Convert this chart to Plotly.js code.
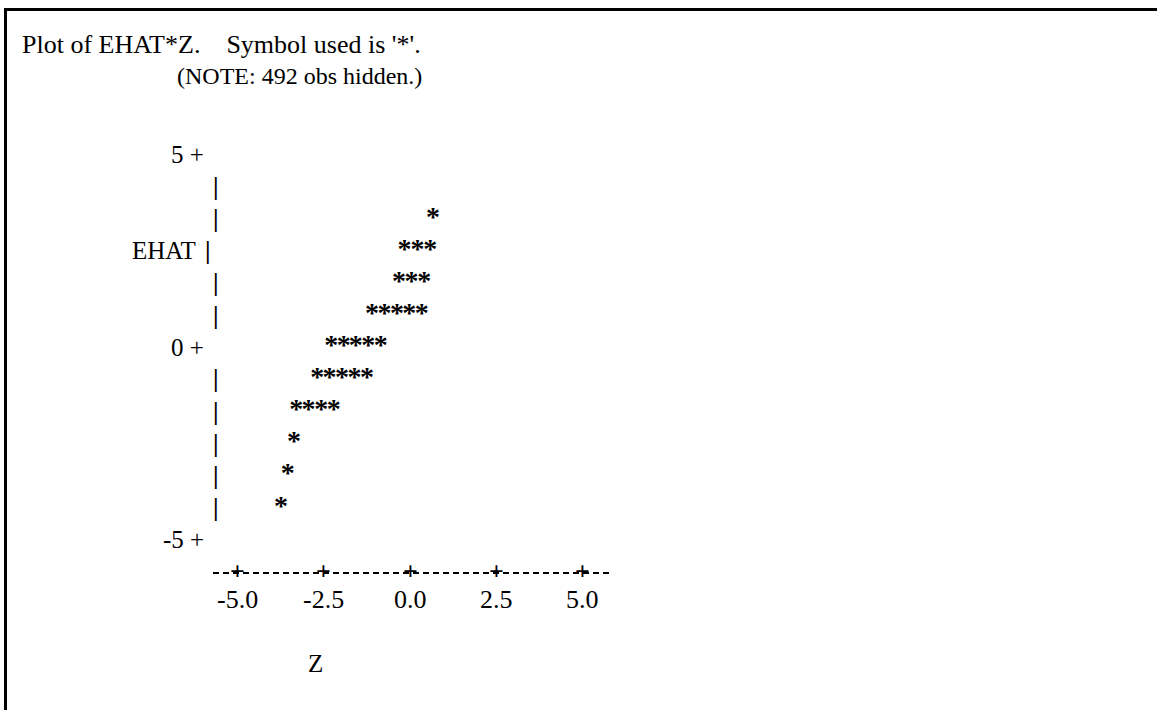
<!DOCTYPE html>
<html>
<head>
<meta charset="utf-8">
<script src="https://cdn.plot.ly/plotly-3.0.1.min.js"></script>
<style>html,body{margin:0;padding:0;background:#fff;}#chart{width:1157px;height:710px;}</style>
</head>
<body>
<div id="chart"></div>
<script>
// ---- data ----
// Z values of each plotted '*' and the EHAT row it sits on
const zValues = [0.67,
  -0.16, 0.22, 0.59,
  -0.32, 0.04, 0.41,
  -1.10, -0.74, -0.38, -0.02, 0.34,
  -2.28, -1.92, -1.57, -1.21, -0.85,
  -2.69, -2.33, -1.97, -1.61, -1.25,
  -3.30, -2.94, -2.57, -2.21,
  -3.36,
  -3.54,
  -3.74];
const ehatValues = [3.33,
  2.5, 2.5, 2.5,
  1.67, 1.67, 1.67,
  0.83, 0.83, 0.83, 0.83, 0.83,
  0, 0, 0, 0, 0,
  -0.83, -0.83, -0.83, -0.83, -0.83,
  -1.67, -1.67, -1.67, -1.67,
  -2.5,
  -3.33,
  -4.17];
const xTickVals = [-5, -2.5, 0, 2.5, 5];
const xTickText = ['-5.0', '-2.5', '0.0', '2.5', '5.0'];
const yTickVals = [5, 0, -5];
const yTickText = ['5 +', '0 +', '-5 +'];
const yPipeRows = [4.17, 3.33, 1.67, 0.83, -0.83, -1.67, -2.5, -3.33, -4.17];
const titleText = "Plot of EHAT*Z.\u00a0\u00a0\u00a0 Symbol used is '*'.";
const noteText = "(NOTE: 492 obs hidden.)";
const yLabel = 'EHAT';
const xLabel = 'Z';

// ---- layout geometry ----
const W = 1157, H = 710;
const x0px = 410, xScale = 34.5;   // px of z=0, px per unit
const y0px = 347, yScale = 38.5;   // px of EHAT=0, px per unit
const xr = [-x0px / xScale, (W - x0px) / xScale];
const yr = [(y0px - H) / yScale, y0px / yScale];
const zx = px => (px - x0px) / xScale;
const ey = px => (y0px - px) / yScale;

const FONT = 'Liberation Serif, Times New Roman, serif';
const f = (size, extra) => Object.assign({family: FONT, size: size, color: '#000'}, extra || {});

const annotations = [];
// y tick labels "5 +", "0 +", "-5 +"
yTickVals.forEach((v, i) => annotations.push({
  x: zx(206), y: v, xref: 'x', yref: 'y', text: yTickText[i], showarrow: false,
  xanchor: 'right', yanchor: 'middle', font: f(25)
}));
// y axis pipes
yPipeRows.forEach(v => annotations.push({
  x: zx(216), y: v, xref: 'x', yref: 'y', text: '<b>|</b>', showarrow: false,
  xanchor: 'center', yanchor: 'middle', font: f(25)
}));
// EHAT label with its pipe
annotations.push({x: zx(198), y: 2.5, xref: 'x', yref: 'y', text: yLabel, showarrow: false,
  xanchor: 'right', yanchor: 'middle', font: f(25)});
annotations.push({x: zx(208), y: 2.5, xref: 'x', yref: 'y', text: '<b>|</b>', showarrow: false,
  xanchor: 'center', yanchor: 'middle', font: f(25)});
// x axis "+" tick marks and labels
xTickVals.forEach((v, i) => {
  annotations.push({x: v, y: ey(571), xref: 'x', yref: 'y', text: '<b>+</b>', showarrow: false,
    xanchor: 'center', yanchor: 'middle', font: f(26)});
  annotations.push({x: v, y: ey(599), xref: 'x', yref: 'y', text: xTickText[i], showarrow: false,
    xanchor: 'center', yanchor: 'middle', font: f(26)});
});
// x label
annotations.push({x: zx(315), y: ey(663), xref: 'x', yref: 'y', text: xLabel, showarrow: false,
  xanchor: 'center', yanchor: 'middle', font: f(25)});
// note line
annotations.push({x: 175 / W, y: 1 - 76 / H, xref: 'paper', yref: 'paper', text: noteText, showarrow: false,
  xanchor: 'left', yanchor: 'middle', font: f(24)});

const shapes = [
  // dashed x axis line
  {type: 'line', xref: 'x', yref: 'y', x0: zx(213), x1: zx(611), y0: ey(573), y1: ey(573),
   line: {color: '#000', width: 2.2, dash: '6px,4px'}},
  // frame: top and left borders
  {type: 'line', xref: 'paper', yref: 'paper', x0: 4 / W, x1: 1, y0: 1 - 9.5 / H, y1: 1 - 9.5 / H,
   line: {color: '#000', width: 3}},
  {type: 'line', xref: 'paper', yref: 'paper', x0: 5.5 / W, x1: 5.5 / W, y0: 1 - 9 / H, y1: 0,
   line: {color: '#000', width: 3}}
];

const trace = {
  x: zValues, y: ehatValues, type: 'scatter', mode: 'text', text: zValues.map(() => '<b>*</b>'),
  textposition: 'middle center', textfont: f(28), hoverinfo: 'skip', showlegend: false
};

const layout = {
  width: W, height: H, margin: {l: 0, r: 0, t: 0, b: 0, pad: 0},
  paper_bgcolor: '#fff', plot_bgcolor: '#fff', showlegend: false,
  title: {text: titleText, x: 22 / W, xanchor: 'left', y: 1 - 44 / H, yanchor: 'middle',
          xref: 'container', yref: 'container', font: f(26)},
  xaxis: {range: xr, visible: false, fixedrange: true},
  yaxis: {range: yr, visible: false, fixedrange: true},
  annotations: annotations, shapes: shapes
};

Plotly.newPlot('chart', [trace], layout, {staticPlot: true, displayModeBar: false});
</script>
</body>
</html>
